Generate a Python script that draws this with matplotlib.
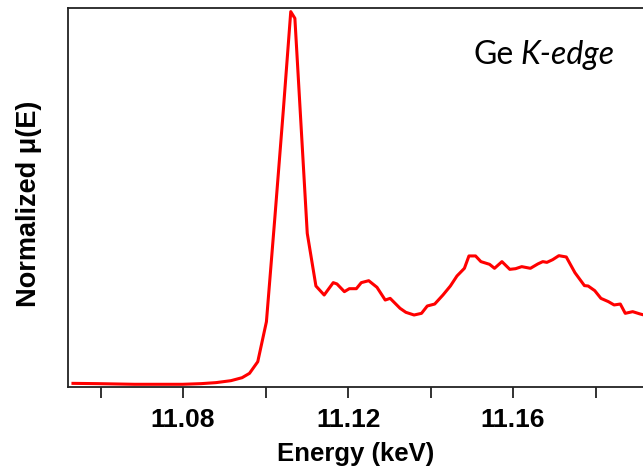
import matplotlib
matplotlib.use('Agg')
import matplotlib.pyplot as plt
from matplotlib.ticker import FixedLocator

# Ge K-edge XANES
energy = [11.0533, 11.0592, 11.0682, 11.0799, 11.0844, 11.0880, 11.0916, 11.0943,
          11.0961, 11.0981, 11.1002, 11.1022, 11.1043, 11.1061, 11.1071, 11.1101,
          11.1122, 11.1142, 11.1164, 11.1173, 11.1191, 11.1203, 11.1220, 11.1232,
          11.1250, 11.1270, 11.1290, 11.1302, 11.1326, 11.1340, 11.1360, 11.1378,
          11.1392, 11.1410, 11.1430, 11.1448, 11.1464, 11.1482, 11.1493, 11.1509,
          11.1522, 11.1543, 11.1555, 11.1573, 11.1592, 11.1606, 11.1621, 11.1642,
          11.1660, 11.1672, 11.1682, 11.1696, 11.1711, 11.1729, 11.1750, 11.1773,
          11.1782, 11.1798, 11.1813, 11.1831, 11.1845, 11.1860, 11.1872, 11.1890,
          11.1908, 11.1920]
mu = [-0.004, -0.007, -0.014, -0.014, -0.007, 0.004, 0.025, 0.057,
      0.104, 0.229, 0.659, 1.753, 2.935, 3.993, 3.921, 1.609,
      1.043, 0.946, 1.079, 1.065, 0.982, 1.014, 1.014, 1.079,
      1.100, 1.029, 0.892, 0.910, 0.803, 0.760, 0.731, 0.749,
      0.828, 0.849, 0.946, 1.043, 1.151, 1.233, 1.366, 1.366,
      1.305, 1.276, 1.233, 1.305, 1.222, 1.229, 1.251, 1.233,
      1.280, 1.305, 1.297, 1.326, 1.369, 1.355, 1.186, 1.047,
      1.043, 0.993, 0.910, 0.875, 0.839, 0.849, 0.749, 0.767,
      0.742, 0.728]

major_ticks = [11.08, 11.12, 11.16]
minor_ticks = [11.06, 11.10, 11.14, 11.18]

fig = plt.figure(figsize=(6.43, 4.68), dpi=100)
ax = fig.add_axes([0.1058, 0.1731, 0.8942, 0.8098])

ax.plot(energy, mu, color='#ff0000', lw=2.2)

ax.set_xlim(11.0521, 11.1915)
ax.set_ylim(-0.043, 4.032)

ax.xaxis.set_major_locator(FixedLocator(major_ticks))
ax.xaxis.set_minor_locator(FixedLocator(minor_ticks))
ax.set_xticklabels(['%.2f' % t for t in major_ticks])
ax.tick_params(axis='x', which='both', direction='out', length=8, width=1.3,
               color='#222222', pad=7)
ax.tick_params(axis='x', which='major', labelsize=19)
for lab in ax.get_xticklabels():
    lab.set_fontweight('bold')
    lab.set_family('Liberation Sans')
ax.set_yticks([])

for s in ['left', 'bottom', 'top']:
    ax.spines[s].set_linewidth(1.3)
    ax.spines[s].set_color('#222222')
ax.spines['right'].set_visible(False)

ax.set_xlabel('Energy (keV)', fontsize=18.5, fontweight='bold',
              family='Liberation Sans')
ax.set_ylabel('Normalized \u03bc(E)', fontsize=19.5, fontweight='bold',
              family=['Liberation Sans', 'DejaVu Sans'])
ax.xaxis.set_label_coords(0.5, -0.145)
ax.yaxis.set_label_coords(-0.046, 0.483)

ge = ax.text(0.705, 0.877, 'Ge', transform=ax.transAxes, fontsize=23,
             family='Lato', ha='left', va='center')
ax.annotate('K-edge', xy=(1, 0.5), xycoords=ge, xytext=(5, 0),
            textcoords='offset points', fontsize=23, family='Lato',
            style='italic', ha='left', va='center')

fig.savefig('out.png', dpi=100)
